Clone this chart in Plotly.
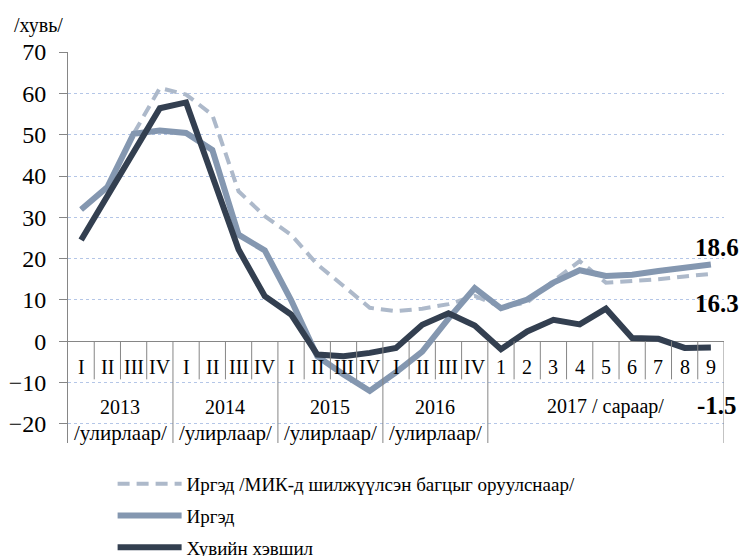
import plotly.graph_objects as go

# ---------------- data ----------------
row1_labels = ["I", "II", "III", "IV", "I", "II", "III", "IV", "I", "II", "III", "IV",
               "I", "II", "III", "IV", "1", "2", "3", "4", "5", "6", "7", "8", "9"]
group_years = ["2013", "2014", "2015", "2016", "2017 / сараар/"]
group_sub = ["/улирлаар/", "/улирлаар/", "/улирлаар/", "/улирлаар/", ""]
group_sizes = [4, 4, 4, 4, 9]

mik = [31.9, 37.3, 50.2, 61.3, 59.7, 54.8, 36.3, 30.3, 25.8, 18.6, 13.4, 8.1, 7.3,
       7.9, 9.0, 11.0, 8.3, 9.4, 14.6, 19.4, 14.2, 14.5, 15.0, 15.7, 16.3]
irged = [31.9, 37.3, 50.2, 51.0, 50.4, 46.3, 25.8, 22.0, 10.0, -3.6, -8.0, -12.0, -7.5,
         -2.5, 5.5, 12.9, 8.0, 10.1, 14.2, 17.2, 15.8, 16.1, 17.0, 17.8, 18.6]
private = [24.5, 35.0, 45.5, 56.4, 57.8, 39.5, 22.2, 10.9, 6.5, -3.2, -3.6, -2.8, -1.6,
           4.0, 6.8, 3.8, -1.9, 2.4, 5.2, 4.1, 7.9, 0.8, 0.6, -1.6, -1.5]

series_names = ["Иргэд /МИК-д шилжүүлсэн багцыг оруулснаар/", "Иргэд", "Хувийн хэвшил"]
end_labels = ["18.6", "16.3", "-1.5"]
yticks = [-20, -10, 0, 10, 20, 30, 40, 50, 60, 70]

FONT = "Liberation Serif, Times New Roman, serif"
x = list(range(len(row1_labels)))

fig = go.Figure()
fig.add_trace(go.Scatter(x=x, y=mik, mode="lines", name=series_names[0], legendgroup="a",
                         line=dict(color="#adb9ca", width=4, dash="12px,7px")))
fig.add_trace(go.Scatter(x=x, y=irged, mode="lines", name=series_names[1], legendgroup="b",
                         line=dict(color="#8497b0", width=6)))
fig.add_trace(go.Scatter(x=x, y=private, mode="lines", name=series_names[2], legendgroup="c",
                         line=dict(color="#333f50", width=6)))

Y_BOTTOM = -24.6
ROW1_Y = -6.3
ROW1_SEP = -9.2

shapes = []
annotations = []
grey = "#868686"
bounds = []
acc = 0
for s in group_sizes:
    acc += s
    bounds.append(acc)
for k in range(1, len(row1_labels) + 1):
    full = k in bounds
    shapes.append(dict(type="line", xref="x", yref="y", x0=k - 0.5, x1=k - 0.5,
                       y0=0, y1=Y_BOTTOM if full else ROW1_SEP,
                       line=dict(color=grey, width=1), layer="above"))

for i, lab in enumerate(row1_labels):
    annotations.append(dict(x=i, y=ROW1_Y, xref="x", yref="y", text=lab, showarrow=False,
                            font=dict(family=FONT, size=20, color="black")))
start = 0
for yr, sub, s in zip(group_years, group_sub, group_sizes):
    cx = start + (s - 1) / 2
    if sub:
        annotations.append(dict(x=cx, y=-16.0, xref="x", yref="y", text=yr, showarrow=False,
                                font=dict(family=FONT, size=20, color="black")))
        annotations.append(dict(x=cx, y=-22.1, xref="x", yref="y", text=sub, showarrow=False,
                                font=dict(family=FONT, size=21, color="black")))
    else:
        annotations.append(dict(x=cx, y=-15.8, xref="x", yref="y", text=yr, showarrow=False,
                                font=dict(family=FONT, size=20, color="black")))
    start += s

# end value labels (paper x so they can overhang the plot edge)
for val, ypos in zip(end_labels, [22.7, 9.2, -15.5]):
    annotations.append(dict(x=0.989, y=ypos, xref="paper", yref="y", text="<b>%s</b>" % val,
                            xanchor="center", showarrow=False,
                            font=dict(family=FONT, size=25, color="black")))

annotations.append(dict(x=-0.085, y=1.068, xref="paper", yref="paper", text="/хувь/",
                        showarrow=False, xanchor="left", yanchor="middle",
                        font=dict(family=FONT, size=20, color="black")))

fig.update_layout(
    width=741, height=556,
    margin=dict(l=68, r=17, t=52, b=113, autoexpand=False),
    paper_bgcolor="white", plot_bgcolor="white",
    font=dict(family=FONT, color="black"),
    showlegend=True,
    legend=dict(orientation="v", x=0.068, xanchor="left", y=-0.056, yanchor="top",
                font=dict(family=FONT, size=19, color="black"), itemwidth=64,
                tracegroupgap=4, bgcolor="rgba(0,0,0,0)"),
    xaxis=dict(range=[-0.5, len(row1_labels) - 0.5], showticklabels=False, showgrid=False,
               zeroline=False, showline=False, ticks=""),
    yaxis=dict(range=[Y_BOTTOM, 70], tickvals=yticks,
               showgrid=True, gridcolor="#b4c6e7", griddash="dot", gridwidth=1,
               zeroline=True, zerolinecolor=grey, zerolinewidth=1,
               showline=True, linecolor=grey, linewidth=1,
               ticks="outside", ticklen=8, tickcolor=grey, ticklabelstandoff=8,
               tickfont=dict(family=FONT, size=24, color="black")),
    shapes=shapes, annotations=annotations,
)

# remove the browser's default 8px body margin so the figure fills the window exactly
fig.write_html("out.html", config={"displayModeBar": False},
               post_script="document.body.style.margin='0';document.body.style.overflow='hidden';")
